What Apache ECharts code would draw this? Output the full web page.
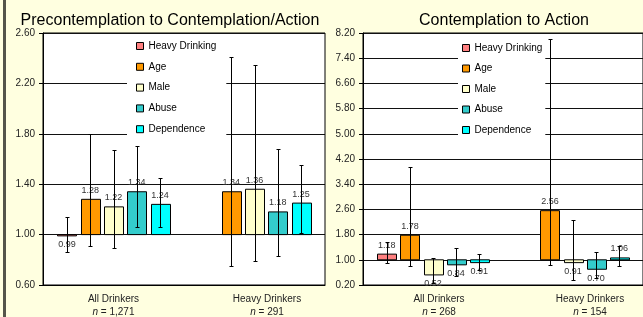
<!DOCTYPE html>
<html>
<head>
<meta charset="utf-8">
<title>Odds ratios</title>
<script src="https://cdn.jsdelivr.net/npm/echarts@6/dist/echarts.min.js"></script>
<style>
  html, body { margin: 0; padding: 0; background: #ffffe0; }
  #chart { width: 643px; height: 317px; }
</style>
</head>
<body>
<div id="chart"></div>
<script>
// categories and series
var categories = ['All Drinkers', 'Heavy Drinkers'];
var seriesNames = ['Heavy Drinking', 'Age', 'Male', 'Abuse', 'Dependence'];

// left panel: precontemplation -> contemplation/action
var preN = ['1,271', '291'];
var preAllOR = [0.99, 1.28, 1.22, 1.34, 1.24];
var preAllLow = [0.86, 0.91, 0.89, 1.06, 1.06];
var preAllHigh = [1.14, 1.80, 1.67, 1.70, 1.45];
var preHeavyOR = [null, 1.34, 1.36, 1.18, 1.25];
var preHeavyLow = [null, 0.75, 0.79, 0.83, 1.01];
var preHeavyHigh = [null, 2.41, 2.35, 1.68, 1.55];
var preTicks = [0.6, 2.6, 0.4]; // min, max, step

// right panel: contemplation -> action
var actN = ['268', '154'];
var actAllOR = [1.18, 1.78, 0.52, 0.84, 0.91];
var actAllLow = [0.90, 0.79, 0.25, 0.50, 0.68];
var actAllHigh = [1.58, 3.95, 1.05, 1.37, 1.20];
var actHeavyOR = [null, 2.56, 0.91, 0.70, 1.06];
var actHeavyLow = [null, 0.83, 0.37, 0.42, 0.79];
var actHeavyHigh = [null, 8.02, 2.26, 1.26, 1.43];
var actTicks = [0.2, 8.2, 0.8];

var colors = ['#ff8080', '#ff9900', '#ffffcc', '#33cccc', '#00ffff'];
var FONT = '"Liberation Sans", Arial, sans-serif';
var PITCH = 0.165; // bar spacing, fraction of category
var BARW = 0.136;  // bar width, fraction of category

var panels = [
  {
    title: 'Precontemplation to Contemplation/Action', titleX: 170, n: preN,
    or: [preAllOR, preHeavyOR], low: [preAllLow, preHeavyLow], high: [preAllHigh, preHeavyHigh],
    ticks: preTicks,
    grid: { left: 43, top: 33, width: 282, height: 253 },
    legend: { left: 127, top: 36, padding: [4, 10, 6, 9], itemGap: 8.8 },
    labelShift: [0, 25]
  },
  {
    title: 'Contemplation to Action', titleX: 504, n: actN,
    or: [actAllOR, actHeavyOR], low: [actAllLow, actHeavyLow], high: [actAllHigh, actHeavyHigh],
    ticks: actTicks,
    grid: { left: 363, top: 33, width: 291, height: 253 },
    legend: { left: 458, top: 38, padding: [4, 3, 6, 4], itemGap: 8.5 },
    labelShift: [12, 34]
  }
];

function makeRender(s) {
  return function (params, api) {
    var ci = api.value(0), v = api.value(1);
    var lo = api.value(2), hi = api.value(3);
    var catW = api.size([1, 0])[0];
    var base = api.coord([ci, 1]);
    var xc = base[0] + (s - 2) * catW * PITCH;
    var yv = api.coord([ci, v])[1];
    var bw = Math.round(catW * BARW);
    var x0 = Math.round(xc - bw / 2) + 0.5;
    var ex = Math.round(xc) + 0.5;
    var yl = Math.round(api.coord([ci, lo])[1]) + 0.5;
    var yh = Math.round(api.coord([ci, hi])[1]) + 0.5;
    var ly = v >= 1 ? yv - 9 : yv + 9;
    var ink = { stroke: '#000', lineWidth: 1 };
    return {
      type: 'group',
      children: [
        { type: 'rect', shape: { x: x0, y: Math.min(base[1], yv), width: bw, height: Math.abs(yv - base[1]) },
          style: { fill: colors[s], stroke: '#000', lineWidth: 1 } },
        { type: 'text', style: { text: v.toFixed(2), x: xc, y: ly, align: 'center', verticalAlign: 'middle',
          textAlign: 'center', textVerticalAlign: 'middle', fontSize: 9, fontFamily: FONT, fill: '#333' } },
        { type: 'line', shape: { x1: ex, y1: yl, x2: ex, y2: yh }, style: ink },
        { type: 'line', shape: { x1: ex - 2, y1: yl, x2: ex + 2, y2: yl }, style: ink },
        { type: 'line', shape: { x1: ex - 2, y1: yh, x2: ex + 2, y2: yh }, style: ink }
      ]
    };
  };
}

var option = {
  backgroundColor: '#ffffe0',
  animation: false,
  textStyle: { fontFamily: FONT },
  grid: [], xAxis: [], yAxis: [], legend: [], series: [],
  graphic: [
    { type: 'rect', shape: { x: 3, y: 0, width: 3, height: 317 }, style: { fill: '#55554a' } }
  ]
};

panels.forEach(function (p, pi) {
  option.grid.push(Object.assign({ show: true, backgroundColor: '#fff', borderColor: '#000', borderWidth: 1 }, p.grid));

  var rich = {};
  categories.forEach(function (c, i) {
    var sh = p.labelShift[i];
    var pad = sh > 0 ? [0, 0, 0, sh] : [0, 0, 0, 0];
    rich['a' + i] = { fontSize: 10, lineHeight: 13, color: '#222', padding: pad };
    rich['n' + i] = { fontSize: 10, lineHeight: 13, color: '#222', fontStyle: 'italic', padding: pad };
    rich['b' + i] = { fontSize: 10, lineHeight: 13, color: '#222' };
  });
  option.xAxis.push({
    type: 'category', gridIndex: pi, data: categories,
    axisLine: { lineStyle: { color: '#000' } },
    axisTick: { show: false },
    axisLabel: {
      interval: 0, margin: 7.5, rich: rich,
      formatter: function (v, i) {
        return '{a' + i + '|' + v + '}\n{n' + i + '|n}{b' + i + '| = ' + p.n[i] + '}';
      }
    }
  });
  option.yAxis.push({
    type: 'value', gridIndex: pi,
    min: p.ticks[0], max: p.ticks[1], interval: p.ticks[2],
    axisLine: { show: true, lineStyle: { color: '#000' } },
    axisTick: { show: true, length: 4, lineStyle: { color: '#000' } },
    axisLabel: { fontSize: 10, color: '#222', margin: 8, formatter: function (v) { return v.toFixed(2); } },
    splitLine: { lineStyle: { color: '#111' } }
  });
  option.legend.push(Object.assign({
    orient: 'vertical', itemWidth: 7, itemHeight: 7, icon: 'rect',
    backgroundColor: '#fff', selectedMode: false, data: seriesNames,
    textStyle: { fontSize: 10, color: '#000', lineHeight: 12 },
    itemStyle: { borderColor: '#000', borderWidth: 1 }
  }, p.legend));

  seriesNames.forEach(function (name, s) {
    var data = categories.map(function (c, ci) {
      return [ci, p.or[ci][s], p.low[ci][s], p.high[ci][s]];
    }).filter(function (d) { return d[1] != null; });
    option.series.push({
      type: 'custom', name: name, xAxisIndex: pi, yAxisIndex: pi,
      itemStyle: { color: colors[s] },
      encode: { x: 0, y: [1, 2, 3] },
      renderItem: makeRender(s),
      data: data
    });
  });

  option.graphic.push({
    type: 'text',
    style: { text: p.title, x: p.titleX, y: 21, align: 'center', verticalAlign: 'middle',
      textAlign: 'center', textVerticalAlign: 'middle', fontSize: 16, fontFamily: FONT, fill: '#000' }
  });
});

var chart = echarts.init(document.getElementById('chart'), null, { renderer: 'canvas' });
chart.setOption(option);
</script>
</body>
</html>
